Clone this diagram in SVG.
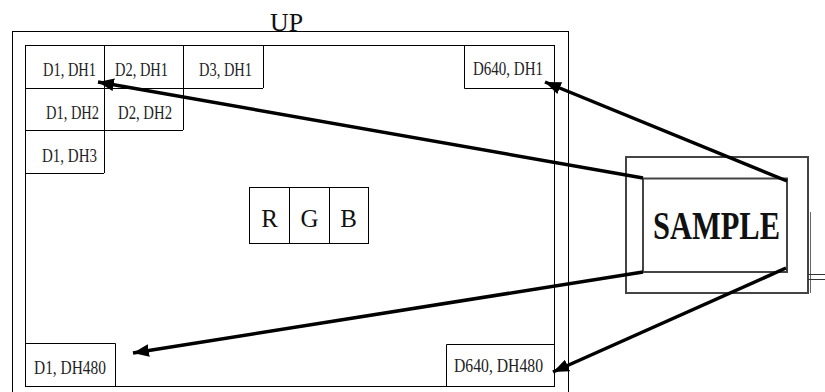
<svg xmlns="http://www.w3.org/2000/svg" width="825" height="392" viewBox="0 0 825 392">
<style>
.ln{fill:none;stroke:#000;stroke-width:1}
.cell{font-family:"Liberation Serif",serif;font-size:19.5px;fill:#222}
.big{font-family:"Liberation Serif",serif;font-size:25px;fill:#111}
.dev{fill:none;stroke:#444;stroke-width:2}
.arr{fill:none;stroke:#000;stroke-width:3.5;marker-end:url(#ah)}
</style>
<defs>
<marker id="ah" markerUnits="userSpaceOnUse" markerWidth="17" markerHeight="14" refX="15" refY="6" orient="auto" viewBox="0 0 16 12">
<path d="M0,0 L15,6 L0,12 Z" fill="#000"/>
</marker>
</defs>
<rect width="825" height="392" fill="#fff"/>
<g id="frame">
<rect class="ln" x="12.5" y="31.5" width="556" height="370"/>
<rect class="ln" x="25.5" y="45.5" width="529" height="341"/>
<text x="270" y="31" class="big" font-size="27" textLength="33" lengthAdjust="spacingAndGlyphs">UP</text>
</g>
<g id="cells">
<path class="ln" d="M25,88.5 H263 M263.5,45 V88 M25,130.5 H183 M183.5,45 V130 M25,173.5 H104 M104.5,45 V173"/>
<path class="ln" d="M464.5,45 V88.5 H554"/>
<path class="ln" d="M25,343.5 H115.5 V386"/>
<path class="ln" d="M446.5,386 V344.5 H554"/>
<text class="cell" x="43" y="76" textLength="53" lengthAdjust="spacingAndGlyphs">D1, DH1</text>
<text class="cell" x="115" y="76" textLength="53" lengthAdjust="spacingAndGlyphs">D2, DH1</text>
<text class="cell" x="199" y="76" textLength="53" lengthAdjust="spacingAndGlyphs">D3, DH1</text>
<text class="cell" x="46" y="119" textLength="53" lengthAdjust="spacingAndGlyphs">D1, DH2</text>
<text class="cell" x="118" y="119" textLength="54" lengthAdjust="spacingAndGlyphs">D2, DH2</text>
<text class="cell" x="42" y="162" textLength="55" lengthAdjust="spacingAndGlyphs">D1, DH3</text>
<text class="cell" x="473" y="75" textLength="70" lengthAdjust="spacingAndGlyphs">D640, DH1</text>
<text class="cell" x="34" y="374" textLength="72" lengthAdjust="spacingAndGlyphs">D1, DH480</text>
<text class="cell" x="454" y="372" textLength="89" lengthAdjust="spacingAndGlyphs">D640, DH480</text>
</g>
<g id="rgb">
<rect class="ln" x="249.5" y="187.5" width="119" height="56"/>
<path class="ln" d="M289.5,187 V243 M329.5,187 V243"/>
<text class="big" x="269.5" y="227" text-anchor="middle">R</text>
<text class="big" x="309.5" y="227" text-anchor="middle">G</text>
<text class="big" x="348.5" y="227" text-anchor="middle">B</text>
</g>
<g id="sample">
<rect class="dev" x="626" y="157" width="182" height="136"/>
<rect class="dev" x="643" y="178.5" width="144" height="93.5"/>
<path d="M810.5,212 V293" stroke="#666" stroke-width="1" fill="none"/>
<path d="M808,274.5 H825 M808,279.5 H825" stroke="#333" stroke-width="1.2" fill="none"/>
<text x="653" y="239" font-family="Liberation Serif,serif" font-weight="bold" font-size="41" fill="#111" textLength="127" lengthAdjust="spacingAndGlyphs">SAMPLE</text>
</g>
<g id="connectors">
<line class="arr" x1="643" y1="178" x2="98" y2="82"/>
<line class="arr" x1="787" y1="181" x2="545" y2="82"/>
<line class="arr" x1="643" y1="272" x2="133" y2="353"/>
<line class="arr" x1="786" y1="268" x2="553" y2="372"/>
</g>
</svg>
